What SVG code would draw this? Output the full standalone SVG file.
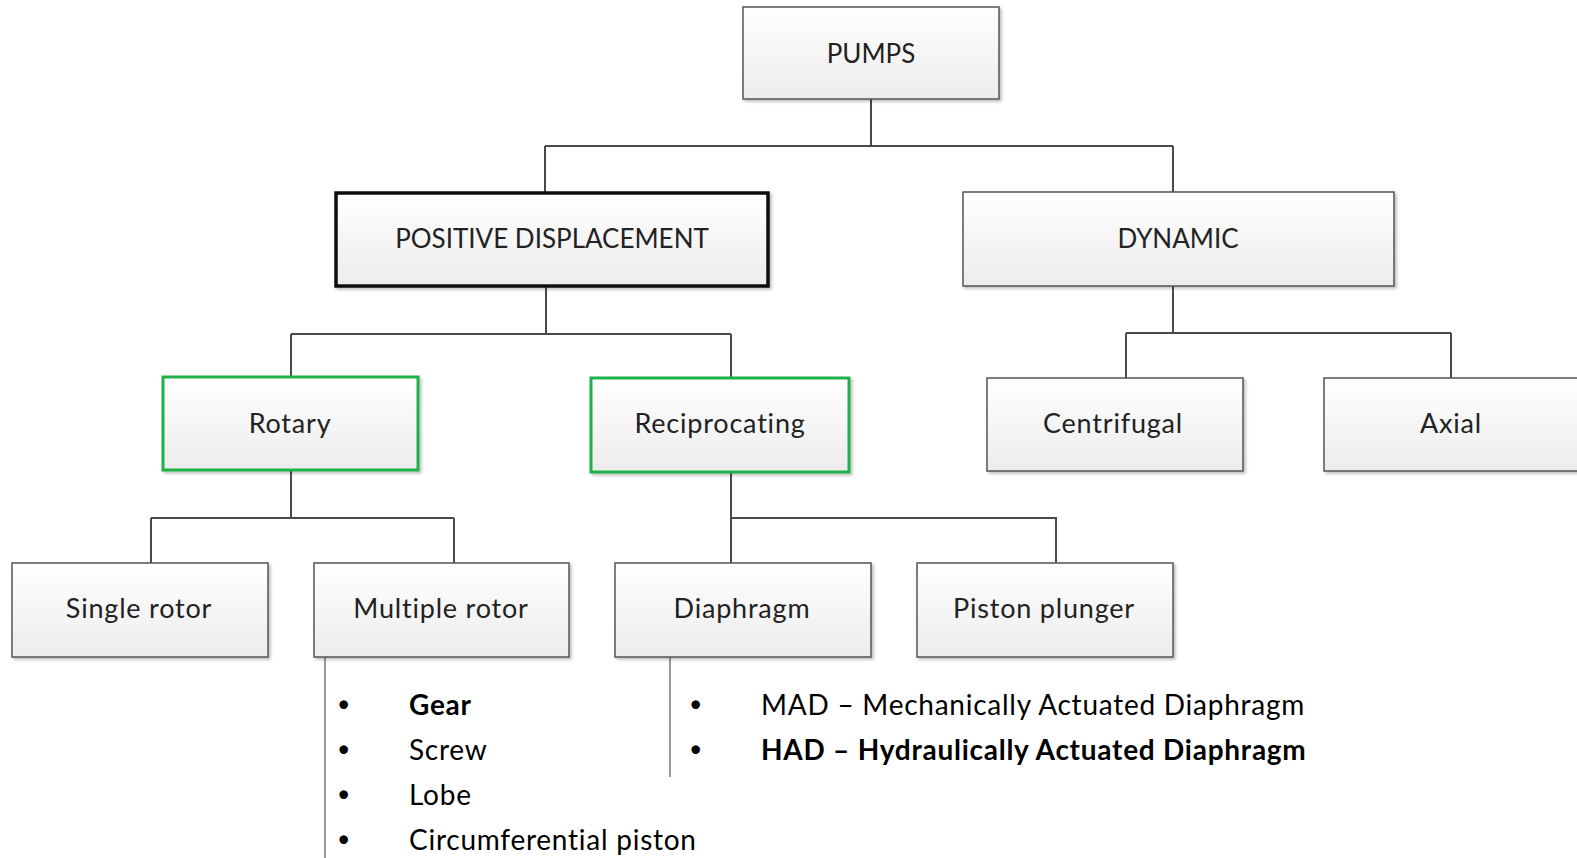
<svg xmlns="http://www.w3.org/2000/svg" width="1577" height="858" viewBox="0 0 1577 858">
<style>
.box{fill:url(#g);stroke:#555;stroke-width:1.5;filter:url(#sh)}
.thick{stroke:#111;stroke-width:3.5}
.green{stroke:#1fb24a;stroke-width:3}
.lbl{font-family:Lato,"Open Sans",sans-serif;font-size:26px;fill:#222;text-anchor:middle}
.mx{font-size:27px;letter-spacing:0.8px}
.con{stroke:#4a4a4a;stroke-width:2;fill:none}
.side{stroke:#999;stroke-width:2;fill:none}
.bul{font-family:Lato,"Open Sans",sans-serif;font-size:28px;letter-spacing:0.75px;fill:#000}
.dot{font-family:Lato,"Open Sans",sans-serif;font-size:23px;fill:#000}
.b{font-weight:bold}
</style>
<defs>
<linearGradient id="g" x1="0" y1="0" x2="0" y2="1">
<stop offset="0" stop-color="#ffffff"/>
<stop offset="1" stop-color="#ececec"/>
</linearGradient>
<filter id="sh" x="-5%" y="-5%" width="115%" height="120%">
<feDropShadow dx="2" dy="2" stdDeviation="1.5" flood-color="#000" flood-opacity="0.25"/>
</filter>
</defs>
<g id="connectors">
<path class="con" d="M871 99V146M545 146H1173M545 146V193M1173 146V192"/>
<path class="con" d="M546 286V334M291 334H731M291 334V377M731 334V378"/>
<path class="con" d="M1173 286V333M1126 333H1451M1126 333V378M1451 333V378"/>
<path class="con" d="M291 470V518M151 518H454M151 518V563M454 518V563"/>
<path class="con" d="M731 472V518H1056V563M731 518V563"/>
<path class="side" d="M325 657V858M670 657V777"/>
</g>
<g id="pumps"><rect class="box" x="743" y="7" width="256" height="92"/><text class="lbl" x="871" y="63">PUMPS</text></g>
<g id="positive"><rect class="box thick" x="336" y="193" width="432" height="93"/><text class="lbl" x="552" y="248">POSITIVE DISPLACEMENT</text></g>
<g id="dynamic"><rect class="box" x="963" y="192" width="431" height="94"/><text class="lbl" x="1178" y="248">DYNAMIC</text></g>
<g id="rotary"><rect class="box green" x="163" y="377" width="255" height="93"/><text class="lbl mx" x="290" y="433">Rotary</text></g>
<g id="reciprocating"><rect class="box green" x="591" y="378" width="258" height="94"/><text class="lbl mx" x="720" y="433">Reciprocating</text></g>
<g id="centrifugal"><rect class="box" x="987" y="378" width="256" height="93"/><text class="lbl mx" x="1113" y="433">Centrifugal</text></g>
<g id="axial"><rect class="box" x="1324" y="378" width="265" height="93"/><text class="lbl mx" x="1451" y="433">Axial</text></g>
<g id="single"><rect class="box" x="12" y="563" width="256" height="94"/><text class="lbl mx" x="139" y="618">Single rotor</text></g>
<g id="multiple"><rect class="box" x="314" y="563" width="255" height="94"/><text class="lbl mx" x="441" y="618">Multiple rotor</text></g>
<g id="diaphragm"><rect class="box" x="615" y="563" width="256" height="94"/><text class="lbl mx" x="742" y="618">Diaphragm</text></g>
<g id="piston"><rect class="box" x="917" y="563" width="256" height="94"/><text class="lbl mx" x="1044" y="618">Piston plunger</text></g>
<g id="rotary-list">
<text class="dot" x="337" y="712">•</text><text class="bul b" x="409" y="715">Gear</text>
<text class="dot" x="337" y="757">•</text><text class="bul" x="409" y="760">Screw</text>
<text class="dot" x="337" y="802">•</text><text class="bul" x="409" y="805">Lobe</text>
<text class="dot" x="337" y="847">•</text><text class="bul" x="409" y="850">Circumferential piston</text>
</g>
<g id="diaphragm-list">
<text class="dot" x="689" y="712">•</text><text class="bul" x="761" y="715">MAD – Mechanically Actuated Diaphragm</text>
<text class="dot" x="689" y="757">•</text><text class="bul b" x="761" y="760">HAD – Hydraulically Actuated Diaphragm</text>
</g>
</svg>
